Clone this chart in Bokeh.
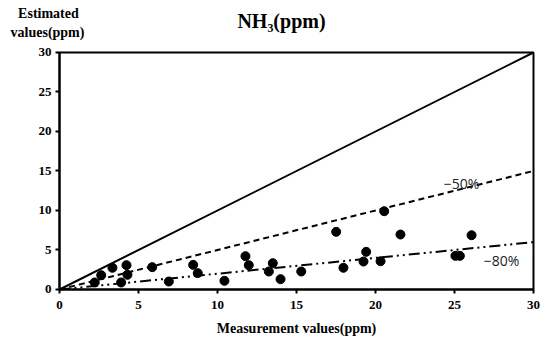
from bokeh.plotting import figure
from bokeh.models import Range1d, FixedTicker, Label, BoxAnnotation
from bokeh.embed import file_html
from bokeh.resources import INLINE

# Data
meas = [2.23, 2.64, 3.35, 3.9, 4.24, 4.30, 5.87, 6.92, 8.46, 8.75, 10.44, 11.77, 11.98,
        13.25, 13.5, 13.99, 15.3, 17.51, 17.97, 19.24, 19.41, 20.32, 20.55, 21.58,
        25.06, 25.34, 26.08]
est = [0.89, 1.81, 2.75, 0.89, 3.08, 1.86, 2.83, 1.01, 3.12, 2.07, 1.1, 4.22, 3.08,
       2.28, 3.33, 1.31, 2.28, 7.3, 2.75, 3.54, 4.77, 3.58, 9.91, 6.96,
       4.26, 4.26, 6.87]
axis_min, axis_max = 0, 30
ref_x = [axis_min, axis_max]
ratios = [1.0, 0.5, 0.2]
ratio_labels = ["", "\u221250%", "\u221280%"]
ticks = [0, 5, 10, 15, 20, 25, 30]
title_text = "NH\u2083(ppm)"
ylabel_lines = ["Estimated", "values(ppm)"]
xlabel_text = "Measurement values(ppm)"

SERIF = "Liberation Serif"
W, H = 550, 344

# frame spans the whole canvas; the data box sits inside it
p = figure(width=W, height=H, output_backend="svg", toolbar_location=None,
           x_range=Range1d(-3.734, 31.076), y_range=Range1d(-6.962, 36.582),
           min_border=0, min_border_left=0, min_border_right=0,
           min_border_top=0, min_border_bottom=0)
p.grid.visible = False
p.outline_line_color = None
p.background_fill_color = "white"
p.border_fill_color = "white"

for ax in (p.xaxis[0], p.yaxis[0]):
    ax.fixed_location = 0
    ax.bounds = (axis_min, axis_max)
    ax.ticker = FixedTicker(ticks=ticks)
    ax.axis_line_width = 2
    ax.axis_line_color = "black"
    ax.major_tick_line_width = 2
    ax.major_tick_out = 4
    ax.major_tick_in = 0
    ax.minor_tick_line_color = None
    ax.major_label_text_font = SERIF
    ax.major_label_text_font_style = "bold"
    ax.major_label_text_font_size = "13px"
    ax.major_label_text_color = "black"

p.xaxis.axis_label = xlabel_text
p.xaxis.axis_label_text_font = SERIF
p.xaxis.axis_label_text_font_style = "bold"
p.xaxis.axis_label_text_font_size = "14px"
p.xaxis.axis_label_text_color = "black"
p.xaxis.axis_label_standoff = 8
p.xaxis.major_label_standoff = 8
p.yaxis.major_label_standoff = 4

p.add_layout(BoxAnnotation(left=axis_min, right=axis_max, bottom=axis_min, top=axis_max,
                           fill_alpha=0, line_color="black", line_alpha=1, line_width=2,
                           level="overlay"))

dashes = ["solid", "6 4", "11 4 2 4 2 4"]
for r, d in zip(ratios, dashes):
    p.line(ref_x, [r * v for v in ref_x], line_color="black", line_width=2, line_dash=d)

p.scatter(meas, est, size=9, color="black")

p.add_layout(Label(x=25.45, y=13.4, text=ratio_labels[1], text_font="Open Sans",
                   text_font_size="14px", text_color="#222", text_align="center",
                   text_baseline="middle"))
p.add_layout(Label(x=27.97, y=3.7, text=ratio_labels[2], text_font="Open Sans",
                   text_font_size="14px", text_color="#222", text_align="center",
                   text_baseline="middle"))

p.add_layout(Label(x=14.05, y=34.05, text=title_text, text_font=SERIF,
                   text_font_style="bold", text_font_size="20px", text_color="black",
                   text_align="center", text_baseline="middle"))
p.add_layout(Label(x=-0.70, y=34.94, text=ylabel_lines[0], text_font=SERIF,
                   text_font_style="bold", text_font_size="14px", text_color="black",
                   text_align="center", text_baseline="middle"))
p.add_layout(Label(x=-0.76, y=32.53, text=ylabel_lines[1], text_font=SERIF,
                   text_font_style="bold", text_font_size="14px", text_color="black",
                   text_align="center", text_baseline="middle"))

open("out.html", "w").write(file_html(p, INLINE))
